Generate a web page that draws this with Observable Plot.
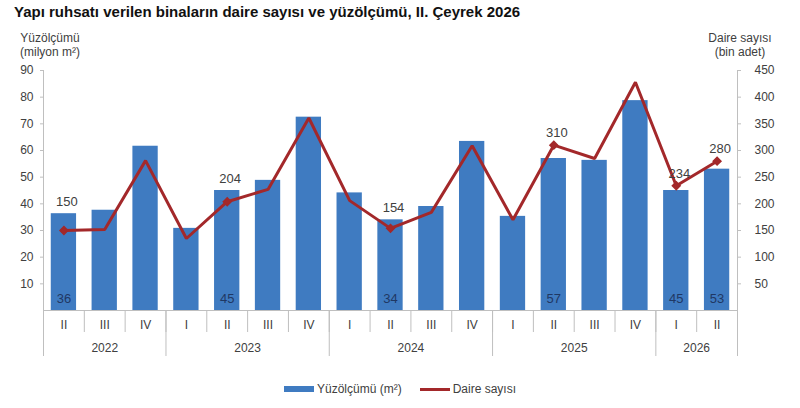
<!DOCTYPE html>
<html>
<head>
<meta charset="utf-8">
<script src="https://cdn.jsdelivr.net/npm/d3@7"></script>
<script src="https://cdn.jsdelivr.net/npm/@observablehq/plot@0.6"></script>
<style>
  body { margin: 0; background: #fff; font-family: "Liberation Sans", Arial, sans-serif; }
  #wrap { position: relative; width: 800px; height: 408px; }
  #title { position: absolute; left: 14px; top: 3px; font-weight: bold; font-size: 15px; color: #111; white-space: nowrap; }
  .ytitle { position: absolute; font-size: 12px; color: #404040; text-align: center; line-height: 14px; white-space: nowrap; }
  #legend { position: absolute; top: 382px; left: 0; width: 800px; display: flex; justify-content: center; align-items: center; font-size: 12px; color: #404040; }
  .sw { display: inline-block; width: 30px; margin-right: 3px; }
  #chart { position: absolute; left: 0; top: 26px; }
</style>
</head>
<body>
<div id="wrap">
  <div id="title">Yapı ruhsatı verilen binaların daire sayısı ve yüzölçümü, II. Çeyrek 2026</div>
  <div class="ytitle" style="left:10px; top:31px; width:80px;">Yüzölçümü<br>(milyon m²)</div>
  <div class="ytitle" style="left:700px; top:31px; width:80px;">Daire sayısı<br>(bin adet)</div>
  <div id="chart"></div>
  <div id="legend">
    <span class="sw" style="height:6px; background:#3f7bc1;"></span><span>Yüzölçümü (m²)</span>
    <span class="sw" style="height:3px; background:#a3282a; margin-left:18px;"></span><span>Daire sayısı</span>
  </div>
</div>
<script>
const quarters = ["II","III","IV","I","II","III","IV","I","II","III","IV","I","II","III","IV","I","II"];
const years =    [2022,2022,2022,2023,2023,2023,2023,2024,2024,2024,2024,2025,2025,2025,2025,2026,2026];
const area =     [36.3,37.6,61.6,30.8,45.0,48.8,72.5,44.1,34.0,39.0,63.4,35.3,57.0,56.3,78.7,45.0,53.0];
const units =    [150,152,281,135,204,227,361,206,154,184,309,170,310,285,428,234,280];
const areaLabels = ["36",null,null,null,"45",null,null,null,"34",null,null,null,"57",null,null,"45","53"];
const unitLabels = ["150",null,null,null,"204",null,null,null,"154",null,null,null,"310",null,null,"234","280"];
const leftTicks = [10,20,30,40,50,60,70,80,90];
const rightTicks = [50,100,150,200,250,300,350,400,450];
const yearList = [2022,2023,2024,2025,2026];

const ratio = 450 / 90;
const data = quarters.map((q, i) => ({i, q, year: years[i], area: area[i], units: units[i], aLab: areaLabels[i], uLab: unitLabels[i]}));

const yearCenters = yearList.map(y => d3.mean(data.filter(d => d.year === y), d => d.i));
const yearBounds = [-0.5, ...yearList.map(y => d3.max(data.filter(d => d.year === y), d => d.i) + 0.5)];
const quarterBounds = d3.range(-0.5, data.length, 1);

const gray = "#bfbfbf";
const txt = "#404040";

const chart = Plot.plot({
  width: 800,
  height: 334,
  marginTop: 44,
  marginBottom: 50,
  marginLeft: 43,
  marginRight: 63,
  style: {fontFamily: "'Liberation Sans', Arial, sans-serif", fontSize: "12px", color: txt},
  x: {type: "linear", domain: [-0.5, data.length - 0.5], axis: null},
  y: {domain: [0, 90], axis: null},
  marks: [
    Plot.rectY(data, {x1: d => d.i - 0.31, x2: d => d.i + 0.31, y: "area", fill: "#3f7bc1"}),
    Plot.ruleY([0], {stroke: gray}),
    Plot.ruleX([-0.5, data.length - 0.5], {y1: 0, y2: 90, stroke: gray}),
    Plot.axisY(leftTicks, {anchor: "left", label: null, tickSize: 3, tickPadding: 7, stroke: gray, fill: txt, fontSize: 12}),
    Plot.axisY(rightTicks.map(v => v / ratio), {anchor: "right", label: null, tickSize: 3, tickPadding: 14, tickFormat: d => Math.round(d * ratio), stroke: gray, fill: txt, fontSize: 12}),
    Plot.axisX(quarterBounds, {anchor: "bottom", label: null, tickSize: 22, tickFormat: () => "", stroke: gray}),
    Plot.axisX(yearBounds, {anchor: "bottom", label: null, tickSize: 46, tickFormat: () => "", stroke: gray}),
    Plot.axisX(data.map(d => d.i), {anchor: "bottom", label: null, tickSize: 0, tickPadding: 10, tickFormat: i => quarters[i], fill: txt, fontSize: 12}),
    Plot.axisX(yearCenters, {anchor: "bottom", label: null, tickSize: 0, tickPadding: 33, tickFormat: (v, k) => String(yearList[k]), fill: txt, fontSize: 12}),
    Plot.line(data, {x: "i", y: d => d.units / ratio, stroke: "#a3282a", strokeWidth: 3, strokeLinejoin: "miter"}),
    Plot.dot(data.filter(d => d.uLab), {x: "i", y: d => d.units / ratio, symbol: "diamond2", r: 3.5, fill: "#a3282a", stroke: "#a3282a"}),
    Plot.text(data.filter(d => d.uLab), {x: "i", y: d => Math.max(d.units / ratio, d.area), text: "uLab", dy: -12, dx: 3, fill: txt, fontSize: 13}),
    Plot.text(data.filter(d => d.aLab), {x: "i", y: 0, text: "aLab", dy: -12, fill: "#1f3864", fontSize: 13})
  ]
});
document.getElementById("chart").appendChild(chart);
</script>
</body>
</html>
